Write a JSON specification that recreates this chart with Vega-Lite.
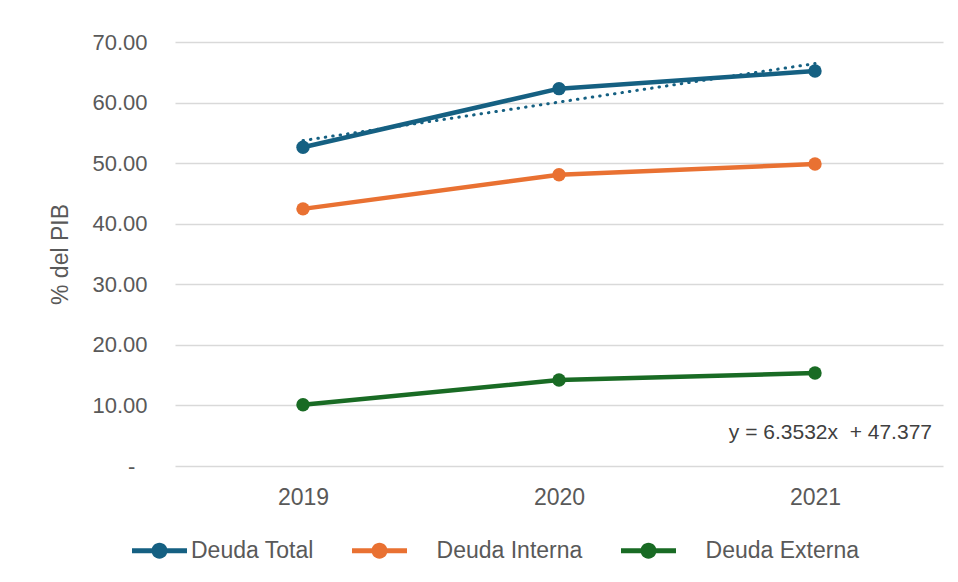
{
  "$schema": "https://vega.github.io/schema/vega-lite/v6.json",
  "autosize": "none",
  "width": 768,
  "height": 424,
  "padding": {"left": 175, "top": 42, "right": 15, "bottom": 116},
  "background": "white",
  "config": {
    "view": {"stroke": null},
    "font": "Liberation Sans",
    "axis": {"labelColor": "#595959", "titleColor": "#595959", "labelFont": "Liberation Sans", "titleFont": "Liberation Sans"},
    "legend": {"labelFont": "Liberation Sans"}
  },
  "datasets": {
    "series": [
      {"year": "2019", "serie": "Deuda Total", "valor": 52.62},
      {"year": "2020", "serie": "Deuda Total", "valor": 62.30},
      {"year": "2021", "serie": "Deuda Total", "valor": 65.20},
      {"year": "2019", "serie": "Deuda Interna", "valor": 42.45},
      {"year": "2020", "serie": "Deuda Interna", "valor": 48.08},
      {"year": "2021", "serie": "Deuda Interna", "valor": 49.85},
      {"year": "2019", "serie": "Deuda Externa", "valor": 10.10},
      {"year": "2020", "serie": "Deuda Externa", "valor": 14.20},
      {"year": "2021", "serie": "Deuda Externa", "valor": 15.35}
    ],
    "trend": [
      {"year": "2019", "tendencia": 53.73},
      {"year": "2020", "tendencia": 60.08},
      {"year": "2021", "tendencia": 66.44}
    ],
    "note": [
      {"year": "2021", "y": 5.45, "label": "y = 6.3532x \u00a0+ 47.377"}
    ]
  },
  "layer": [
    {
      "data": {"name": "series"},
      "mark": {"type": "line", "strokeWidth": 4.5, "strokeCap": "round", "strokeJoin": "round"},
      "encoding": {
        "x": {
          "field": "year", "type": "ordinal",
          "scale": {"type": "point", "padding": 0.5},
          "axis": {"title": null, "labelAngle": 0, "labelFontSize": 23, "labelPadding": 20, "ticks": false, "tickSize": 0, "domain": false, "grid": false}
        },
        "y": {
          "field": "valor", "type": "quantitative",
          "scale": {"domain": [0, 70], "nice": false},
          "axis": {
            "title": "% del PIB", "titleFontSize": 23, "titleFontWeight": "normal", "titlePadding": 19,
            "values": [0, 10, 20, 30, 40, 50, 60, 70],
            "labelExpr": "datum.value == 0 ? '-\\u00a0\\u00a0\\u200b' : format(datum.value, '.2f')",
            "labelFontSize": 22, "labelPadding": 28, "ticks": false, "tickSize": 0, "domain": false,
            "grid": true, "gridColor": "#d9d9d9", "gridWidth": 1.5
          }
        },
        "color": {
          "field": "serie", "type": "nominal",
          "scale": {"domain": ["Deuda Total", "Deuda Interna", "Deuda Externa"], "range": ["#156082", "#E97132", "#196B24"]}
        }
      }
    },
    {
      "data": {"name": "trend"},
      "mark": {"type": "line", "color": "#156082", "strokeWidth": 3, "strokeDash": [0.5, 7], "strokeCap": "round"},
      "encoding": {
        "x": {"field": "year", "type": "ordinal"},
        "y": {"field": "tendencia", "type": "quantitative"}
      }
    },
    {
      "data": {"name": "series"},
      "mark": {"type": "point", "filled": true, "opacity": 1, "size": 180},
      "encoding": {
        "x": {"field": "year", "type": "ordinal"},
        "y": {"field": "valor", "type": "quantitative"},
        "color": {
          "field": "serie", "type": "nominal",
          "legend": {
            "title": null, "orient": "none", "direction": "horizontal",
            "legendX": -43, "legendY": 481,
            "symbolType": "M-1,-0.09 L1,-0.09 L1,0.09 L-1,0.09 Z M0,-0.29 A0.29,0.29 0 1,1 0,0.29 A0.29,0.29 0 1,1 0,-0.29 Z",
            "symbolSize": 3025, "symbolStrokeWidth": 0, "symbolOpacity": 1,
            "labelFontSize": 23, "labelColor": "#595959", "labelOffset": 4, "columnPadding": 38, "labelLimit": 300,
            "labelExpr": "datum.label == 'Deuda Total' ? datum.label : '\\u200b\\u00a0\\u00a0\\u00a0\\u00a0' + datum.label"
          }
        }
      }
    },
    {
      "data": {"name": "note"},
      "mark": {"type": "text", "align": "right", "baseline": "middle", "dx": 117, "fontSize": 21, "color": "#404040"},
      "encoding": {
        "x": {"field": "year", "type": "ordinal"},
        "y": {"field": "y", "type": "quantitative"},
        "text": {"field": "label"}
      }
    }
  ]
}
